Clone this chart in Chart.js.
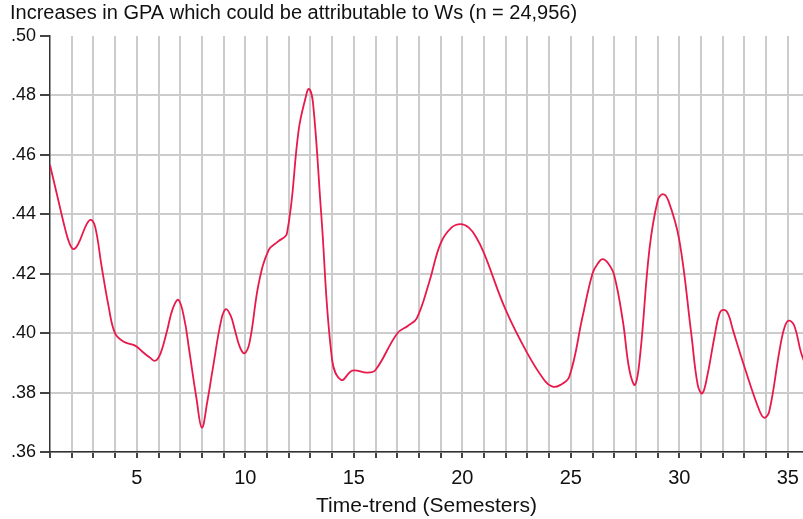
<!DOCTYPE html>
<html><head><meta charset="utf-8">
<script src="https://cdn.jsdelivr.net/npm/chart.js@4/dist/chart.umd.min.js"></script>
<style>html,body{margin:0;padding:0;background:#fff}#wrap{width:803px;height:519px}</style>
</head><body><div id="wrap"><canvas id="c" width="803" height="519"></canvas></div>
<script>
const titleText = "Increases in GPA which could be attributable to Ws (n = 24,956)";
const xAxisTitle = "Time-trend (Semesters)";
const semesters = [1.0,1.38,1.7,1.9,2.08,2.3,2.69,2.89,3.09,3.38,3.7,4.0,4.4,4.92,5.3,5.6,5.85,6.1,6.4,6.65,6.92,7.2,7.4,7.75,8.0,8.25,8.5,8.9,9.11,9.33,9.5,9.75,9.96,10.2,10.62,11.08,11.5,11.92,12.46,12.75,12.93,13.12,13.5,14.0,14.43,14.93,15.62,16.0,17.0,17.5,17.9,18.46,19.0,19.5,19.93,20.3,20.62,21.0,22.0,23.0,23.8,24.16,24.5,24.93,25.54,26.0,26.25,26.47,26.72,27.0,27.4,27.7,27.96,28.2,28.62,29.0,29.24,29.5,30.0,30.55,30.85,31.06,31.3,31.62,31.85,32.04,32.25,32.47,33.0,33.7,33.93,34.15,34.62,34.85,35.05,35.3,35.62,36.0];
const gpaIncrease = [.4566,.4448,.435,.4302,.4283,.430,.4367,.4381,.4355,.4224,.409,.3999,.3971,.3958,.3935,.3918,.3907,.3933,.401,.4081,.4112,.4044,.395,.378,.3682,.377,.388,.4047,.4081,.4058,.4016,.3953,.3932,.397,.4168,.428,.4308,.4336,.4684,.4784,.4822,.4775,.440,.391,.3842,.3874,.3867,.3876,.3999,.4025,.405,.4168,.4302,.4355,.4367,.4355,.4325,.4269,.4078,.3932,.384,.382,.3825,.3853,.4055,.4201,.4235,.4249,.4235,.4195,.404,.3876,.3826,.393,.428,.4445,.4468,.4445,.4313,.3999,.3825,.3797,.386,.3988,.4065,.4078,.4065,.4011,.3887,.3738,.3715,.3738,.3943,.402,.4042,.4025,.3932,.386];
const xLabeledTicks = [5,10,15,20,25,30,35];

Chart.defaults.font.family = "'Liberation Sans', Arial, sans-serif";
Chart.defaults.color = '#111';

new Chart(document.getElementById('c'), {
  type: 'line',
  data: {
    datasets: [{
      data: semesters.map((x, i) => ({x: x, y: gpaIncrease[i]})),
      borderColor: '#e8194b',
      borderWidth: 1.8,
      pointRadius: 0,
      fill: false,
      tension: 0.4
    }]
  },
  options: {
    responsive: false,
    animation: false,
    layout: {padding: {left: 10, right: 0, top: 0, bottom: 0}},
    plugins: {
      legend: {display: false},
      tooltip: {enabled: false},
      title: {display: true, text: titleText, align: 'start', color: '#111',
        font: {size: 20, weight: 'normal'}, padding: {top: 1, bottom: 11}}
    },
    scales: {
      x: {
        type: 'linear', min: 1, max: 35.7,
        ticks: {stepSize: 1, includeBounds: false, autoSkip: false, maxRotation: 0, color: '#111',
          font: {size: 20}, padding: 8,
          callback: v => xLabeledTicks.includes(v) ? String(v) : ''},
        grid: {color: ctx => (ctx.tick && ctx.tick.value === 1) ? 'rgba(0,0,0,0)' : '#cccccc',
          lineWidth: 2, tickColor: '#444', tickLength: 6},
        border: {color: '#333', width: 1.5},
        title: {display: true, text: xAxisTitle, color: '#111', font: {size: 21}, padding: {top: 0, bottom: 0}},
        afterFit: s => { s.height = 67; s.paddingLeft = 0; s.paddingRight = 0; }
      },
      y: {
        min: 0.36, max: 0.5,
        ticks: {stepSize: 0.02, color: '#111', font: {size: 18}, padding: 4,
          callback: v => v.toFixed(2).replace(/^0/, '')},
        grid: {color: ctx => (ctx.tick && Math.abs(ctx.tick.value - 0.5) < 1e-6) ? 'rgba(0,0,0,0)' : '#cccccc',
          lineWidth: 2, tickColor: '#444', tickLength: 10},
        border: {color: '#333', width: 1.5},
        afterFit: s => { s.width = 40; }
      }
    }
  }
});
</script>
</body></html>
